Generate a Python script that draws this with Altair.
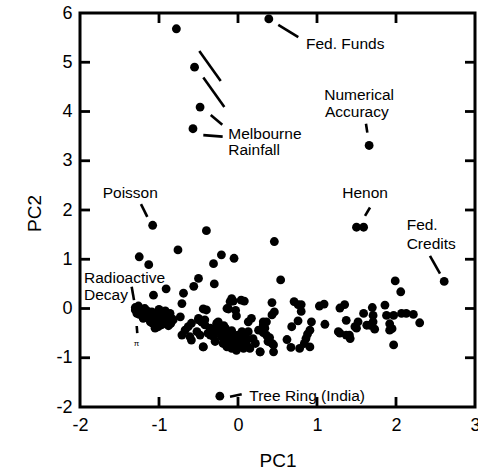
import altair as alt
import pandas as pd

# ---------------- data ----------------
pc1 = [
    -0.78, 0.39, -0.55, -0.48, -0.57, 1.66, 1.50, 1.59, 2.61, -1.08, -1.25, -1.13, -0.76,
    -0.40, -0.21, -0.31, -0.05, 0.46, 0.54, -0.30, -0.50, -0.56, -0.69, -0.91, -1.07,
    1.99, 2.06, -0.23,
    -1.30, -1.28, -1.24, -1.18, -1.14, -1.09, -1.07, -1.03, -0.99, -0.95, -0.90, -0.86,
    -0.84, -0.95, -1.01, -1.05, -0.97, -0.88, -0.82, -1.20, -1.11, -1.30, -1.26, -1.22,
    -1.15, -1.00, -0.92, -0.88, -0.93,
    -1.28, -1.25, -1.20, -1.16, -1.12, -1.08, -1.04, -1.00, -0.96, -0.92, -0.88, -1.02,
    -0.98, -1.08, -0.91, -0.85,
    -0.71, -0.73, -0.59, -0.63, -0.67, -0.71, -0.61, -0.59, -0.52, -0.50,
    -0.44, -0.46, -0.42, -0.40, -0.27, -0.23, -0.31, -0.35, -0.44, -0.48, -0.12, -0.02,
    -0.08, -0.06, 0.04, 0.08, -0.03, -0.10, -0.14,
    -0.50, -0.46, -0.42, -0.35, -0.38, -0.31, -0.25, -0.23, -0.21, -0.16, -0.14, -0.12,
    -0.10, -0.08, -0.14, -0.04, 0.00, 0.05, 0.03, 0.09, 0.11, 0.07, 0.13, 0.19, 0.22,
    0.15, -0.04, -0.19, -0.29, 0.36, 0.38, 0.32, 0.34, 0.43, 0.45, -0.44, 0.28,
    -0.20, -0.15, -0.06, -0.02, 0.02, -0.06, -0.12, -0.26, -0.18, -0.08, 0.06, 0.12,
    -0.33, -0.02,
    0.17, 0.13, 0.32, 0.36, 0.43, 0.46, 0.71, 0.76, 0.80, 0.80, 1.03, 1.09, 1.29, 1.35,
    1.37, 0.76, 0.93, 1.10, 1.27, 0.68, 0.91, 0.88, 0.86, 0.84, 0.62, 0.67, 0.78, 0.91,
    0.40, 0.43, 0.45, 0.28, 0.26, 0.32,
    1.59, 1.70, 1.86, 1.71, 1.71, 1.67, 1.73, 1.52, 1.48, 1.50, 1.63, 1.88, 1.97, 1.92,
    1.95, 1.92, 1.97, 2.07, 2.13, 2.22, 2.30, 1.37, 1.42, 1.29, 1.41,
]
pc2 = [
    5.68, 5.88, 4.90, 4.09, 3.65, 3.31, 1.65, 1.65, 0.55, 1.69, 1.05, 0.89, 1.19,
    1.58, 1.09, 0.91, 1.02, 1.36, 0.58, 0.50, 0.61, 0.45, 0.31, 0.40, 0.27,
    0.56, 0.34, -1.78,
    -0.03, -0.10, -0.03, 0.00, -0.10, -0.07, -0.20, -0.13, -0.10, -0.17, -0.13, -0.10,
    -0.20, -0.27, -0.37, -0.40, -0.33, -0.27, -0.23, -0.20, -0.27, 0.02, 0.05, -0.08,
    -0.05, -0.02, -0.05, -0.35, -0.30,
    -0.05, -0.12, -0.10, -0.13, -0.17, -0.13, -0.22, -0.20, -0.22, -0.20, -0.17, -0.30,
    -0.27, -0.30, -0.25, -0.30,
    0.10, -0.17, -0.30, -0.37, -0.44, -0.54, -0.57, -0.64, -0.47, -0.23,
    -0.01, -0.27, -0.23, -0.03, -0.30, -0.44, -0.57, -0.54, -0.78, -0.54, -0.01, -0.15,
    0.20, 0.15, 0.17, 0.15, -0.04, 0.14, 0.00,
    -0.20, -0.27, -0.33, -0.40, -0.50, -0.54, -0.27, -0.47, -0.57, -0.40, -0.50, -0.61,
    -0.71, -0.81, -0.78, -0.61, -0.54, -0.47, -0.67, -0.61, -0.74, -0.81, -0.47, -0.61, -0.71,
    -0.81, -0.81, -0.71, -0.67, -0.54, -0.67, -0.33, -0.40, -0.13, -0.74, -0.78, -0.88,
    -0.50, -0.60, -0.55, -0.65, -0.72, -0.75, -0.68, -0.45, -0.35, -0.45, -0.58, -0.62,
    -0.42, -0.85,
    -0.20, -0.27, -0.27, -0.27, 0.12, -0.07, 0.14, 0.08, 0.08, -0.06, 0.05, 0.09, 0.01, 0.08,
    -0.24, -0.25, -0.27, -0.32, -0.47, -0.37, -0.44, -0.52, -0.61, -0.71, -0.63, -0.79, -0.81, -0.78,
    -0.59, -0.71, -0.88, -0.88, -0.44, -0.49,
    -0.10, 0.02, 0.07, -0.14, -0.27, -0.34, -0.42, -0.27, -0.37, -0.40, -0.34, -0.14, -0.14, -0.31,
    -0.41, -0.44, -0.74, -0.10, -0.10, -0.12, -0.29, -0.54, -0.61, -0.50, -0.54,
]

label_text = ["Fed. Funds", "Numerical", "Accuracy", "Melbourne", "Rainfall", "Poisson",
              "Henon", "Fed.", "Credits", "Radioactive", "Decay", "Tree Ring (India)"]
label_x = [0.861, 1.092, 1.101, -0.123, -0.123, -1.713, 1.320, 2.135, 2.135, -1.949, -1.949, 0.143]
label_y = [5.263, 4.233, 3.882, 3.436, 3.107, 2.238, 2.238, 1.594, 1.208, 0.512, 0.173, -1.872]

small_text = ["\u03c0"]
small_x = [-1.285]
small_y = [-0.76]

seg_x = [0.51, -0.49, -0.439, -0.345, -0.439, 1.620, 1.671, 2.430, -1.228, -1.346, -1.282, -0.101]
seg_y = [5.76, 5.23, 4.69, 3.93, 3.52, 3.75, 2.05, 1.07, 2.12, 0.44, -0.355, -1.79]
seg_x2 = [0.763, -0.219, -0.173, -0.199, -0.194, 1.637, 1.608, 2.557, -1.148, -1.316, -1.275, 0.047]
seg_y2 = [5.51, 4.62, 4.09, 3.73, 3.49, 3.57, 1.88, 0.71, 1.86, 0.17, -0.50, -1.74]

x_ticks = [-1, 0, 1, 2]
y_ticks = [-1, 0, 1, 2, 3, 4, 5]
x_labels = [-2, -1, 0, 1, 2, 3]
y_labels = [-2, -1, 0, 1, 2, 3, 4, 5, 6]

W, H = 395, 394
FONT = "Liberation Sans"

pts = pd.DataFrame({"PC1": pc1, "PC2": pc2})
labels = pd.DataFrame({"t": label_text, "x": label_x, "y": label_y})
small = pd.DataFrame({"t": small_text, "x": small_x, "y": small_y})
segs = pd.DataFrame({"x": seg_x, "y": seg_y, "x2": seg_x2, "y2": seg_y2})
xt = pd.DataFrame({"v": x_ticks})
yt = pd.DataFrame({"v": y_ticks})

xs = alt.Scale(domain=[-2, 3], nice=False, zero=False)
ys = alt.Scale(domain=[-2, 6], nice=False, zero=False)

x_axis = alt.Axis(values=x_labels, labelExpr="datum.value + ''", tickSize=0, domain=False,
                  grid=False, labelFontSize=18,
                  labelFont=FONT, labelPadding=9, labelColor="black", title="PC1",
                  titleFont=FONT, titleFontSize=19, titleFontWeight="normal", titleColor="black",
                  titleBaseline="alphabetic", titleY=59, labelFlush=False, labelOverlap=False)
y_axis = alt.Axis(values=y_labels, labelExpr="datum.value + ''", tickSize=0, domain=False,
                  grid=False, labelFontSize=18,
                  labelFont=FONT, labelPadding=8, labelColor="black", title="PC2",
                  titleFont=FONT, titleFontSize=19, titleFontWeight="normal", titleColor="black",
                  titleBaseline="alphabetic", titleX=-40, titleY=200, titleAngle=-90,
                  labelFlush=False, labelOverlap=False)

points = alt.Chart(pts).mark_circle(size=78, color="black", opacity=1).encode(
    x=alt.X("PC1:Q", scale=xs, axis=x_axis),
    y=alt.Y("PC2:Q", scale=ys, axis=y_axis),
)

lines = alt.Chart(segs).mark_rule(color="black", strokeWidth=2.6).encode(
    x=alt.X("x:Q", scale=xs), y=alt.Y("y:Q", scale=ys), x2="x2:Q", y2="y2:Q"
)

texts = alt.Chart(labels).mark_text(align="left", baseline="alphabetic", font=FONT,
                                    fontSize=15.5, color="black").encode(
    x=alt.X("x:Q", scale=xs), y=alt.Y("y:Q", scale=ys), text="t:N"
)

stext = alt.Chart(small).mark_text(align="center", baseline="alphabetic", font=FONT,
                                   fontSize=8, color="black").encode(
    x=alt.X("x:Q", scale=xs), y=alt.Y("y:Q", scale=ys), text="t:N"
)

TL, TW = 10, 2.8
xb = alt.Chart(xt).mark_rule(color="black", strokeWidth=TW).encode(
    x=alt.X("v:Q", scale=xs), y=alt.value(H), y2=alt.value(H - TL))
xtp = alt.Chart(xt).mark_rule(color="black", strokeWidth=TW).encode(
    x=alt.X("v:Q", scale=xs), y=alt.value(0), y2=alt.value(TL))
yl = alt.Chart(yt).mark_rule(color="black", strokeWidth=TW).encode(
    y=alt.Y("v:Q", scale=ys), x=alt.value(0), x2=alt.value(TL))
yr = alt.Chart(yt).mark_rule(color="black", strokeWidth=TW).encode(
    y=alt.Y("v:Q", scale=ys), x=alt.value(W), x2=alt.value(W - TL))

chart = alt.layer(points, lines, texts, stext, xb, xtp, yl, yr).properties(
    width=W, height=H,
    autosize=alt.AutoSizeParams(type="none"),
    padding={"left": 80, "top": 13, "right": 3, "bottom": 65},
    background="white",
).configure_view(stroke="black", strokeWidth=3)

chart.save("out.html", embed_options={"renderer": "svg", "actions": False})
